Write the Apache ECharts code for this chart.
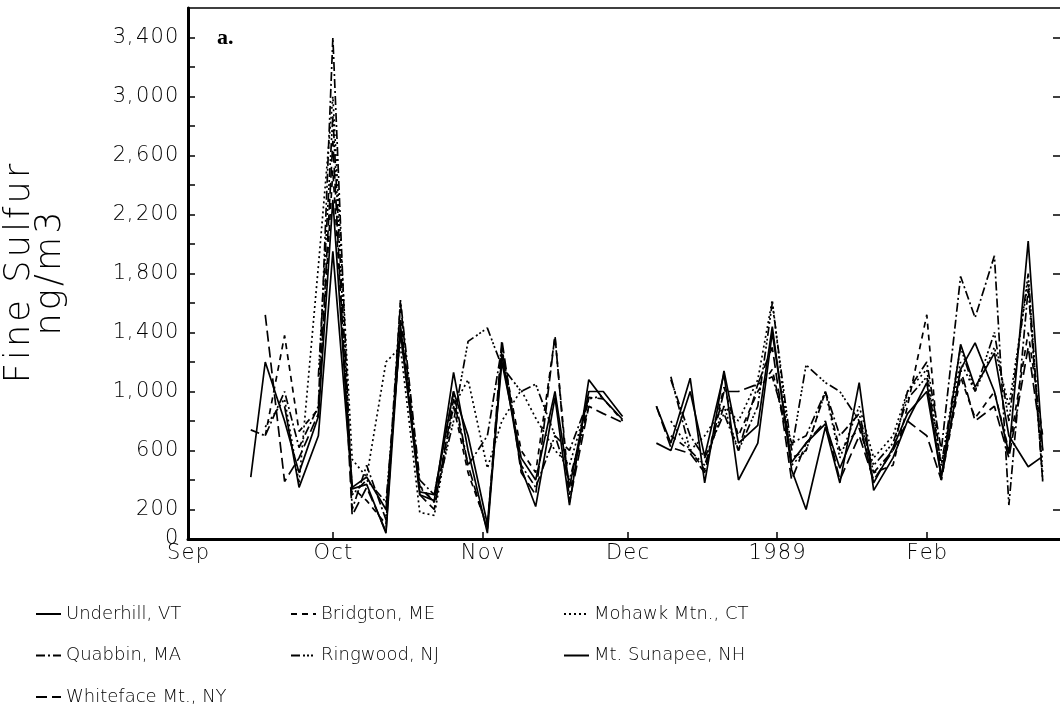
<!DOCTYPE html>
<html>
<head>
<meta charset="utf-8">
<script src="https://cdn.jsdelivr.net/npm/echarts@6/dist/echarts.min.js"></script>
<style>
  html, body { margin: 0; padding: 0; background: #fff; }
  #chart { width: 1060px; height: 713px; }
</style>
</head>
<body>
<div id="chart"></div>
<script>
// sample dates (Wed / Sat filters), Dec 3 missing at every site
const dates = [
  "1988-09-14", "1988-09-17", "1988-09-21", "1988-09-24", "1988-09-28",
  "1988-10-01", "1988-10-05", "1988-10-08", "1988-10-12", "1988-10-15",
  "1988-10-19", "1988-10-22", "1988-10-26", "1988-10-29", "1988-11-02",
  "1988-11-05", "1988-11-09", "1988-11-12", "1988-11-16", "1988-11-19",
  "1988-11-23", "1988-11-26", "1988-11-30", "1988-12-03", "1988-12-07",
  "1988-12-10", "1988-12-14", "1988-12-17", "1988-12-21", "1988-12-24",
  "1988-12-28", "1988-12-31", "1989-01-04", "1989-01-07", "1989-01-11",
  "1989-01-14", "1989-01-18", "1989-01-21", "1989-01-25", "1989-01-28",
  "1989-02-01", "1989-02-04", "1989-02-08", "1989-02-11", "1989-02-15",
  "1989-02-18", "1989-02-22", "1989-02-25"
];

const underhill = [420, 1200, 800, 450, 830, 2300, 340, 370, 40, 1450, 300, 260, 1130, 600, 40, 1250, 480, 220, 960, 230, 1080, 950, 810, null, 900, 650, 1090, 380, 1140, 650, 770, 1440, 470, 200, 760, 380, 1060, 330, 550, 800, 1060, 420, 1320, 1030, 1260, 700, 490, 560];
const bridgton = [null, 700, 1380, 730, 880, 2500, 350, 260, 100, 1500, 360, 250, 900, 450, 80, 1280, 600, 450, 1370, 300, 960, 950, 800, null, null, 700, 600, 470, 1030, 700, 1000, 1150, 550, 600, 1000, 600, 750, 450, 500, 900, 1520, 400, 1100, 820, 1000, 600, 1400, 700];
const mohawk = [null, 760, 950, 380, 1850, 3000, 540, 420, 1200, 1300, 180, 160, 900, 1080, 480, 800, 1010, 820, 600, 500, 950, 970, null, null, null, 800, 600, 700, 900, 800, 1080, 1620, 500, 600, 1000, 550, 900, 550, 700, 1000, 1150, 500, 1200, 1000, 1300, 900, 1750, 450];
const quabbin = [740, 700, 1000, 620, 900, 3400, 200, 500, 130, 1620, 400, 300, 1000, 500, 700, 1300, 500, 350, 700, 600, 950, null, null, null, null, 1080, 700, 550, 850, 600, 1050, 1100, 650, 700, 1000, 700, 850, 450, 600, 1000, 1200, 600, 1780, 1500, 1920, 230, 1700, 400];
const ringwood = [null, null, null, null, 1100, 2870, 300, 400, 250, 1400, 350, 250, 800, 1340, 1430, 1170, 1000, 1050, 700, 400, 900, null, null, null, null, 1100, 600, 500, 900, 600, 900, 1600, 600, 1180, 1060, 1000, 800, 500, 650, 950, 1100, 500, 1300, 1000, 1400, 800, 1800, 390];
const sunapee = [null, null, 900, 350, 700, 1950, 350, 420, 200, 1400, 320, 300, 1000, 700, 100, 1200, 550, 400, 1000, 350, 1000, 1000, 830, null, 650, 600, 1000, 560, 1120, 400, 650, 1400, 520, 650, 780, 480, 800, 380, 620, 850, 1000, 420, 1150, 1330, 1000, 580, 2020, 600];
const whiteface = [null, 1520, 390, 550, 850, 2700, 160, 350, 50, 1600, 300, 200, 950, 500, 60, 1350, 450, 300, 1380, 250, 900, 850, 790, null, 900, 620, 580, 450, 1000, 1000, 1050, 1300, 400, 650, 800, 400, 700, 400, 600, 800, 700, 400, 1150, 800, 900, 550, 1300, 600];

const siteNames = ["Underhill, VT", "Bridgton, ME", "Mohawk Mtn., CT", "Quabbin, MA",
                   "Ringwood, NJ", "Mt. Sunapee, NH", "Whiteface Mt., NY"];
const siteValues = [underhill, bridgton, mohawk, quabbin, ringwood, sunapee, whiteface];

const monthTicks = ["1988-09-01", "1988-10-01", "1988-11-01", "1988-12-01", "1989-01-01", "1989-02-01"];
const monthLabels = ["Sep", "Oct", "Nov", "Dec", "1989", "Feb"];
const yLabelValues = [0, 200, 600, 1000, 1400, 1800, 2200, 2600, 3000, 3400];
const yTickValues = [0, 200, 400, 600, 800, 1000, 1200, 1400, 1600, 1800, 2000, 2200, 2400, 2600, 2800, 3000, 3200, 3400];

// line patterns, same order as siteNames
const dashes = [
  "solid",
  [6, 5],
  [2, 3],
  [9, 3, 2, 3],
  [9, 3, 2, 2, 2, 2, 2, 3],
  "solid",
  [11, 5]
];

// day number since 1 Sep 1988 (UTC, so no DST drift)
function toDay(s) {
  const p = s.split("-").map(Number);
  return (Date.UTC(p[0], p[1] - 1, p[2]) - Date.UTC(1988, 8, 1)) / 86400000;
}

const monthDays = monthTicks.map(toDay);
const font = "DejaVu Sans";

// the plotter font of the original is wide, so space the glyphs out a bit
function spaced(text, style) {
  return text.split("").map(ch => {
    if (ch === ",") return "{c|,}";
    if (ch === " ") return "{" + style + "| }";
    return "{" + style + "|" + ch + "}";
  }).join("");
}
const richText = {
  d: { fontFamily: font, fontWeight: 200, fontSize: 21, color: "#000", padding: [0, 0.6, 0, 0.6] },
  c: { fontFamily: font, fontWeight: 200, fontSize: 21, color: "#000", padding: [0, 2, 0, 0] },
  n: { fontFamily: font, fontWeight: 200, fontSize: 35, color: "#000", lineHeight: 31, padding: [0, 1.6, 0, 1.6] }
};

const series = siteNames.map((name, k) => ({
  name: name,
  type: "line",
  symbol: "none",
  connectNulls: false,
  lineStyle: { color: "#000", width: 1.7, type: dashes[k] },
  itemStyle: { color: "#000" },
  data: dates.map((d, i) => [toDay(d), siteValues[k][i]])
}));

function legendCol(left, names) {
  return {
    orient: "vertical",
    left: left,
    top: 604,
    padding: 0,
    itemWidth: 25,
    itemHeight: 20,
    itemGap: 21.5,
    itemStyle: { opacity: 0 },
    data: names,
    textStyle: { fontFamily: font, fontWeight: 200, fontSize: 18, lineHeight: 20, color: "#000" }
  };
}

const chart = echarts.init(document.getElementById("chart"));
chart.setOption({
  animation: false,
  backgroundColor: "#fff",
  grid: {
    left: 188, right: -2, top: 8, bottom: 174,
    outerBoundsMode: "none",
    show: true, borderColor: "#000", borderWidth: 1.5
  },
  legend: [
    legendCol(35, ["Underhill, VT", "Quabbin, MA", "Whiteface Mt., NY"]),
    legendCol(290, ["Bridgton, ME", "Ringwood, NJ"]),
    legendCol(563, ["Mohawk Mtn., CT", "Mt. Sunapee, NH"])
  ],
  graphic: [{
    type: "text", left: 217, top: 27,
    style: { text: "a.", font: "bold 22px 'Liberation Serif'", fill: "#000" }
  }],
  xAxis: {
    type: "value",
    min: 0,
    max: toDay("1989-03-01"),
    splitLine: { show: false },
    axisLine: { lineStyle: { color: "#000", width: 3 } },
    axisTick: { inside: true, length: 7, customValues: monthDays, lineStyle: { color: "#000", width: 1.5 } },
    axisLabel: {
      customValues: monthDays,
      margin: 4,
      rich: richText,
      formatter: v => {
        const i = monthDays.indexOf(v);
        return i >= 0 ? spaced(monthLabels[i], "d") : "";
      }
    }
  },
  yAxis: [{
    type: "value",
    min: 0, max: 3600, interval: 200,
    name: spaced("Fine Sulfur", "n") + "\n" + spaced("ng/m3", "n"),
    nameLocation: "middle",
    nameRotate: 90,
    nameGap: 122,
    nameTextStyle: { rich: richText, lineHeight: 31 },
    splitLine: { show: false },
    axisLine: { show: true, lineStyle: { color: "#000", width: 3 } },
    axisTick: { inside: true, length: 7, customValues: yTickValues, lineStyle: { color: "#000", width: 1.5 } },
    axisLabel: {
      customValues: yLabelValues,
      margin: 9,
      rich: richText,
      formatter: v => spaced(v.toLocaleString("en-US"), "d")
    }
  }, {
    type: "value",
    position: "right",
    min: 0, max: 3600, interval: 200,
    splitLine: { show: false },
    axisLine: { show: false },
    axisTick: { show: true, inside: true, length: 9, customValues: yLabelValues.slice(1), lineStyle: { color: "#000", width: 1.5 } },
    axisLabel: { show: false }
  }],
  series: series
});
</script>
</body>
</html>
